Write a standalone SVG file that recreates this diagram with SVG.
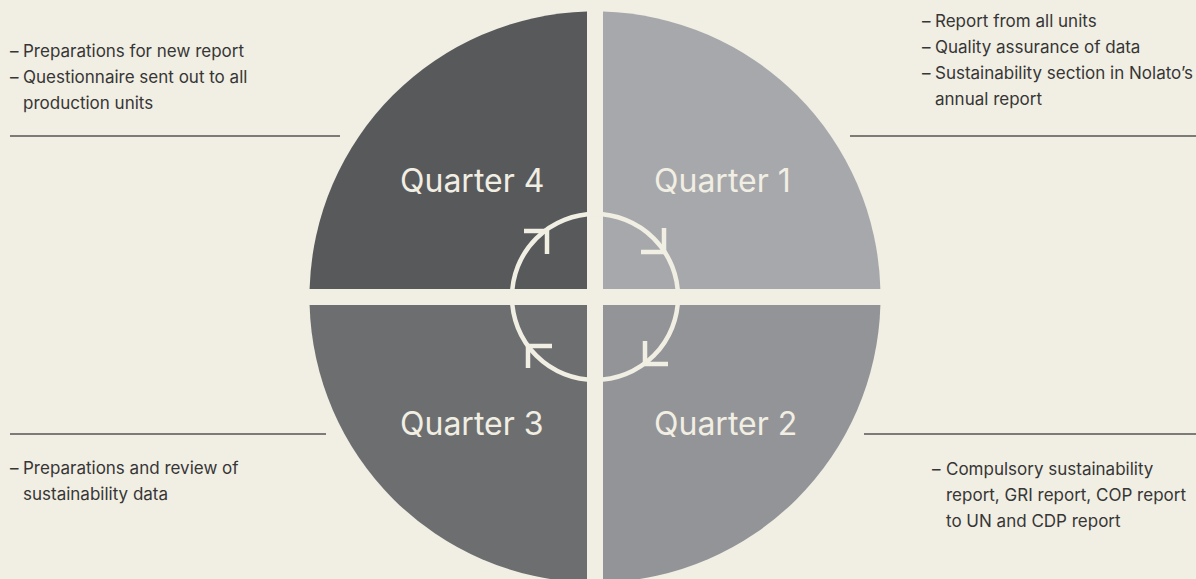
<svg xmlns="http://www.w3.org/2000/svg" width="1196" height="579" viewBox="0 0 1196 579">
<style>
.bg{fill:#f1eee3}
.q{font-family:Inter,"Liberation Sans",sans-serif;font-size:32px;fill:#f1eee3}
.t{font-family:Inter,"Liberation Sans",sans-serif;font-size:17px;fill:#363636}
.rule{stroke:#555;stroke-width:1.3;fill:none}
.ring{stroke:#f1eee3;stroke-width:4.5;fill:none}
.arr{stroke:#f1eee3;stroke-width:4.5;fill:none;stroke-linecap:butt;stroke-linejoin:miter}
</style>
<rect class="bg" x="0" y="0" width="1196" height="579"/>
<g id="quarter4">
<path d="M587,289 L309.6,289 A285.5,285.5 0 0 1 587,11.6 Z" fill="#58595b"/>
<text class="q" x="400" y="192">Quarter 4</text>
</g>
<g id="quarter1">
<path d="M603,289 L603,11.6 A285.5,285.5 0 0 1 880.4,289 Z" fill="#a7a8ab"/>
<text class="q" x="654" y="192">Quarter 1</text>
</g>
<g id="quarter2">
<path d="M603,305 L880.4,305 A285.5,285.5 0 0 1 603,582.4 Z" fill="#939497"/>
<text class="q" x="654" y="435">Quarter 2</text>
</g>
<g id="quarter3">
<path d="M587,305 L587,582.4 A285.5,285.5 0 0 1 309.6,305 Z" fill="#6d6e70"/>
<text class="q" x="400" y="435">Quarter 3</text>
</g>
<g id="connectors">
<circle class="ring" cx="595" cy="297" r="83"/>
<path class="arr" d="M524,231 L547,231 L547,254"/>
<path class="arr" d="M664,228 L664,252 L641,252"/>
<path class="arr" d="M668,364 L645,364 L645,341"/>
<path class="arr" d="M528,368 L528,346 L552,346"/>
</g>
<g id="note4">
<text class="t" x="10" y="57">–</text>
<text class="t" x="23" y="57">Preparations for new report</text>
<text class="t" x="10" y="83">–</text>
<text class="t" x="23" y="83">Questionnaire sent out to all</text>
<text class="t" x="23" y="109">production units</text>
<line class="rule" x1="10" y1="136" x2="340" y2="136"/>
</g>
<g id="note1">
<text class="t" x="922" y="27">–</text>
<text class="t" x="935" y="27">Report from all units</text>
<text class="t" x="922" y="53">–</text>
<text class="t" x="935" y="53">Quality assurance of data</text>
<text class="t" x="922" y="79">–</text>
<text class="t" x="935" y="79">Sustainability section in Nolato’s</text>
<text class="t" x="935" y="105">annual report</text>
<line class="rule" x1="850" y1="136" x2="1196" y2="136"/>
</g>
<g id="note3">
<line class="rule" x1="10" y1="434" x2="326" y2="434"/>
<text class="t" x="10" y="474">–</text>
<text class="t" x="23" y="474">Preparations and review of</text>
<text class="t" x="23" y="500">sustainability data</text>
</g>
<g id="note2">
<line class="rule" x1="864" y1="434" x2="1196" y2="434"/>
<text class="t" x="932" y="475">–</text>
<text class="t" x="946" y="475">Compulsory sustainability</text>
<text class="t" x="946" y="501">report, GRI report, COP report</text>
<text class="t" x="946" y="527">to UN and CDP report</text>
</g>
</svg>
